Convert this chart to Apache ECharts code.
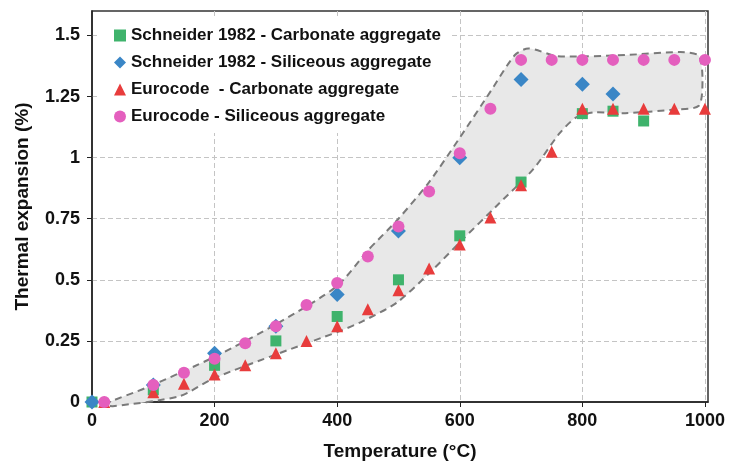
<!DOCTYPE html>
<html>
<head>
<meta charset="utf-8">
<script src="https://cdn.jsdelivr.net/npm/echarts@6/dist/echarts.min.js"></script>
<style>
  html, body { margin: 0; padding: 0; background: #fff; }
  #chart { width: 731px; height: 466px; }
</style>
</head>
<body>
<div id="chart"></div>
<script>
// Schneider 1982 measurements
var schneiderT = [0, 100, 200, 300, 400, 500, 600, 700, 800, 850, 900];
var schneiderCarbonate = [0, 0.05, 0.15, 0.25, 0.35, 0.5, 0.68, 0.9, 1.18, 1.19, 1.15];
var schneiderSiliceousT = [0, 100, 200, 300, 400, 500, 600, 700, 800, 850];
var schneiderSiliceous = [0, 0.07, 0.2, 0.31, 0.44, 0.7, 1.0, 1.32, 1.3, 1.26];

// Eurocode curves
var eurocodeT = [20, 100, 150, 200, 250, 300, 350, 400, 450, 500, 550, 600, 650, 700, 750, 800, 850, 900, 950, 1000];
var eurocodeCarbonate = [0, 0.04, 0.075, 0.113, 0.15, 0.2, 0.25, 0.31, 0.38, 0.457, 0.546, 0.645, 0.755, 0.887, 1.024, 1.2, 1.2, 1.2, 1.2, 1.2];
var eurocodeSiliceous = [0, 0.07, 0.12, 0.177, 0.24, 0.31, 0.397, 0.487, 0.595, 0.718, 0.861, 1.018, 1.2, 1.4, 1.4, 1.4, 1.4, 1.4, 1.4, 1.4];

// grey envelope (upper edge left->right, then lower edge right->left)
var envelopeT = [20, 90, 200, 305, 400, 450, 500, 550, 597, 650, 690, 712, 760, 870, 960, 990, 996, 990, 948, 870, 818, 790, 763, 720, 660, 605, 551, 497, 442, 404, 306, 197, 143, 34];
var envelopeV = [-0.01, 0.06, 0.185, 0.325, 0.475, 0.62, 0.75, 0.9, 1.07, 1.27, 1.42, 1.447, 1.415, 1.42, 1.432, 1.417, 1.32, 1.212, 1.196, 1.182, 1.185, 1.165, 1.1, 0.953, 0.802, 0.666, 0.529, 0.406, 0.331, 0.29, 0.2, 0.095, 0.024, -0.017];

var seriesNames = [
  'Schneider 1982 - Carbonate aggregate',
  'Schneider 1982 - Siliceous aggregate',
  'Eurocode  - Carbonate aggregate',
  'Eurocode - Siliceous aggregate'
];

function pairs(xs, ys) {
  return xs.map(function (x, i) { return [x, ys[i]]; });
}

var font = '"Liberation Sans", Arial, sans-serif';
var chart = echarts.init(document.getElementById('chart'));

chart.setOption({
  animation: false,
  grid: {
    left: 92,
    right: 23,
    top: 11,
    bottom: 63,
    show: true,
    borderColor: '#333',
    borderWidth: 1.5,
    backgroundColor: '#fff'
  },
  legend: {
    data: seriesNames,
    orient: 'vertical',
    left: 98,
    top: 16,
    padding: [11, 10, 8, 16],
    backgroundColor: '#fff',
    itemWidth: 12,
    itemHeight: 12,
    itemGap: 10,
    textStyle: {
      fontFamily: font,
      fontSize: 17,
      fontWeight: 'bold',
      color: '#111'
    }
  },
  xAxis: {
    type: 'value',
    min: 0,
    max: 1005,
    interval: 200,
    name: 'Temperature (°C)',
    nameLocation: 'middle',
    nameGap: 40,
    nameTextStyle: { fontFamily: font, fontSize: 19, fontWeight: 'bold', color: '#111' },
    axisLine: { lineStyle: { color: '#222', width: 1.5 } },
    axisTick: { show: true, length: 5, lineStyle: { color: '#222' } },
    axisLabel: {
      margin: 10,
      showMaxLabel: false,
      formatter: function (v) { return String(v); },
      fontFamily: font,
      fontSize: 18,
      fontWeight: 'bold',
      color: '#111'
    },
    splitLine: {
      show: true,
      showMinLine: false,
      showMaxLine: false,
      lineStyle: { type: [5, 3], color: '#c4c4c4' }
    }
  },
  yAxis: {
    type: 'value',
    min: 0,
    max: 1.6,
    interval: 0.25,
    name: 'Thermal expansion (%)',
    nameLocation: 'middle',
    nameGap: 60,
    nameTextStyle: { fontFamily: font, fontSize: 19, fontWeight: 'bold', color: '#111' },
    axisLine: { show: true, lineStyle: { color: '#222', width: 1.5 } },
    axisTick: { show: true, length: 5, lineStyle: { color: '#222' } },
    axisLabel: {
      margin: 12,
      showMaxLabel: false,
      fontFamily: font,
      fontSize: 18,
      fontWeight: 'bold',
      color: '#111'
    },
    splitLine: {
      show: true,
      showMinLine: false,
      showMaxLine: false,
      lineStyle: { type: [5, 3], color: '#c4c4c4' }
    }
  },
  series: [
    {
      name: 'envelope',
      type: 'custom',
      silent: true,
      z: 1,
      data: [[0, 0]],
      renderItem: function (params, api) {
        var pts = envelopeT.map(function (t, i) {
          return api.coord([t, envelopeV[i]]);
        });
        return {
          type: 'polygon',
          shape: { points: pts, smooth: 0.25 },
          style: {
            fill: '#e8e8e8',
            stroke: '#7a7a7a',
            lineWidth: 2,
            lineDash: [7, 5]
          }
        };
      }
    },
    {
      name: seriesNames[0],
      type: 'scatter',
      symbol: 'rect',
      symbolSize: 11,
      itemStyle: { color: '#3fb36c', opacity: 1 },
      data: pairs(schneiderT, schneiderCarbonate)
    },
    {
      name: seriesNames[1],
      type: 'scatter',
      symbol: 'diamond',
      symbolSize: 15,
      itemStyle: { color: '#3a86c6', opacity: 1 },
      data: pairs(schneiderSiliceousT, schneiderSiliceous)
    },
    {
      name: seriesNames[2],
      type: 'scatter',
      symbol: 'triangle',
      symbolSize: 12,
      itemStyle: { color: '#e83c3c', opacity: 1 },
      data: pairs(eurocodeT, eurocodeCarbonate)
    },
    {
      name: seriesNames[3],
      type: 'scatter',
      symbol: 'circle',
      symbolSize: 12,
      itemStyle: { color: '#e45fbe', opacity: 1 },
      data: pairs(eurocodeT, eurocodeSiliceous)
    }
  ]
});
</script>
</body>
</html>
